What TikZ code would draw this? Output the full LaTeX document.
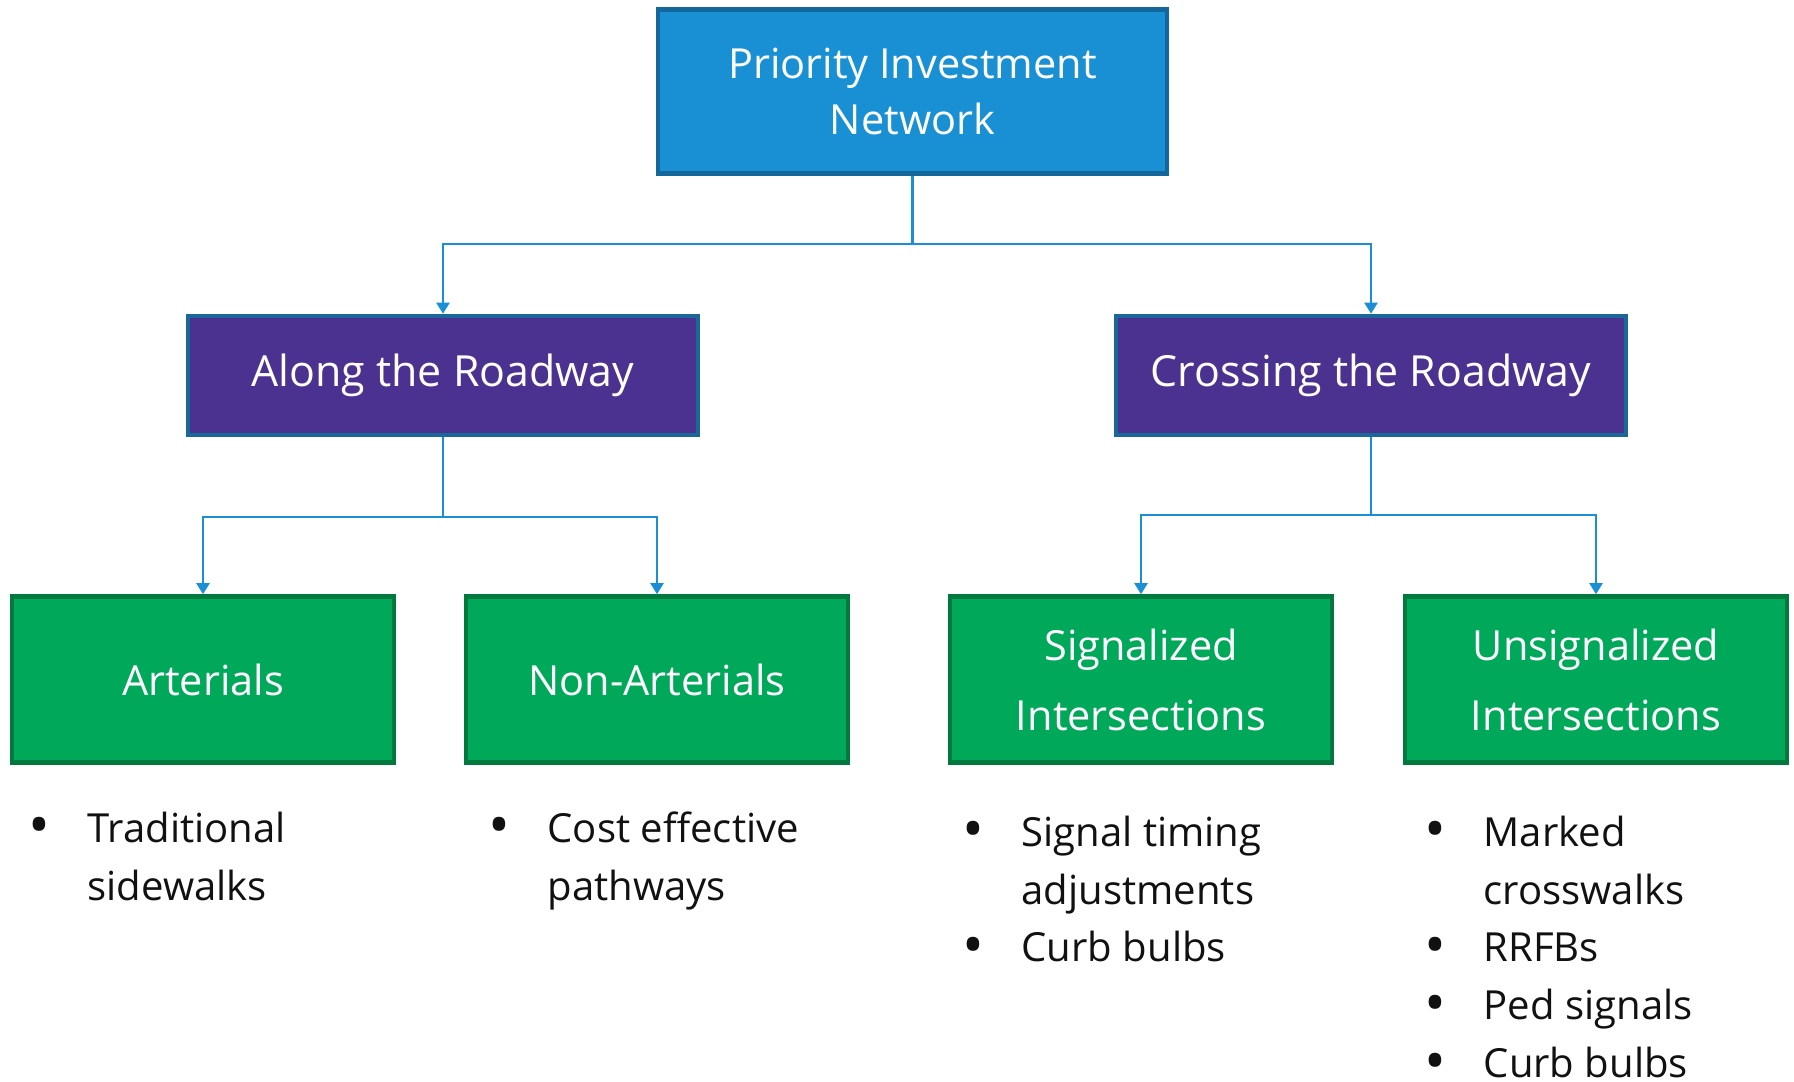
\documentclass[tikz,border=0pt]{standalone}
\usepackage{fontspec}
\setmainfont{Open Sans}
\usetikzlibrary{arrows.meta}
\definecolor{topfill}{HTML}{1990D3}
\definecolor{topdraw}{HTML}{14679A}
\definecolor{midfill}{HTML}{4B3190}
\definecolor{middraw}{HTML}{1A6799}
\definecolor{lowfill}{HTML}{00A85A}
\definecolor{lowdraw}{HTML}{00793F}
\definecolor{conncol}{HTML}{1A8FD5}
\definecolor{listtext}{HTML}{111111}
\newcommand{\bigbul}{\raisebox{-0.15ex}{\scalebox{1.45}{\textbullet}}}
\begin{document}
\begin{tikzpicture}[x=0.1mm,y=-0.1mm,
  box/.style={rectangle, line width=1.3pt, text=white, align=center, inner sep=0pt},
  topbox/.style={box, fill=topfill, draw=topdraw, minimum width=50.9mm, minimum height=16.4mm, font=\fontsize{11.8}{16.2}\selectfont},
  midbox/.style={box, fill=midfill, draw=middraw, minimum width=51mm, minimum height=11.9mm, font=\fontsize{12.2}{16}\selectfont},
  lowbox/.style={box, fill=lowfill, draw=lowdraw, minimum width=38.2mm, minimum height=16.6mm, font=\fontsize{11.8}{19.9}\selectfont},
  conn/.style={draw=conncol, line width=0.6pt, -{Triangle[width=1.3mm,length=1.1mm]}},
  plain/.style={draw=conncol, line width=0.6pt},
  blist/.style={inner sep=0pt, anchor=base west, text=listtext, font=\fontsize{11.4}{16.5}\selectfont}
]
\useasboundingbox[fill=white] (0,0) rectangle (1794,1081);

\node[topbox] (top) at (912.5,91.5) {Priority Investment\\Network};

\node[midbox] (along) at ( 443,375.5) {\raisebox{-0.5ex}{Along the Roadway}};
\node[midbox] (cross) at (1371,375.5) {\raisebox{-0.2ex}{Crossing the Roadway}};

\node[lowbox] (art) at (203,679.5) {Arterials};
\node[lowbox] (nonart) at (657,679.5) {Non-Arterials};
\node[lowbox] (sig) at (1141,679.5) {Signalized\\Intersections};
\node[lowbox] (unsig) at (1596,679.5) {Unsignalized\\Intersections};

\coordinate (j1) at (912.5,244);
\coordinate (j2) at (443,517);
\coordinate (j3) at (1371,515);

\draw[plain] (top.south) -- (j1);
\draw[conn] (j1) -| (along.north);
\draw[conn] (j1) -| (cross.north);
\draw[plain] (along.south) -- (j2);
\draw[conn] (j2) -| (art.north);
\draw[conn] (j2) -| (nonart.north);
\draw[plain] (cross.south) -- (j3);
\draw[conn] (j3) -| (sig.north);
\draw[conn] (j3) -| (unsig.north);

\node[blist] (l1) at (28,842) {\begin{tabular}[t]{@{}p{5.9mm}@{}l@{}}
\bigbul & Traditional\\ & sidewalks\end{tabular}};
\node[blist] (l2) at (488,842) {\begin{tabular}[t]{@{}p{5.9mm}@{}l@{}}
\bigbul & Cost effective\\ & pathways\end{tabular}};
\node[blist] (l3) at (962,846) {\begin{tabular}[t]{@{}p{5.9mm}@{}l@{}}
\bigbul & Signal timing\\ & adjustments\\
\bigbul & Curb bulbs\end{tabular}};
\node[blist] (l4) at (1424,846) {\begin{tabular}[t]{@{}p{5.9mm}@{}l@{}}
\bigbul & Marked\\ & crosswalks\\
\bigbul & RRFBs\\
\bigbul & Ped signals\\
\bigbul & Curb bulbs\end{tabular}};
\end{tikzpicture}
\end{document}
